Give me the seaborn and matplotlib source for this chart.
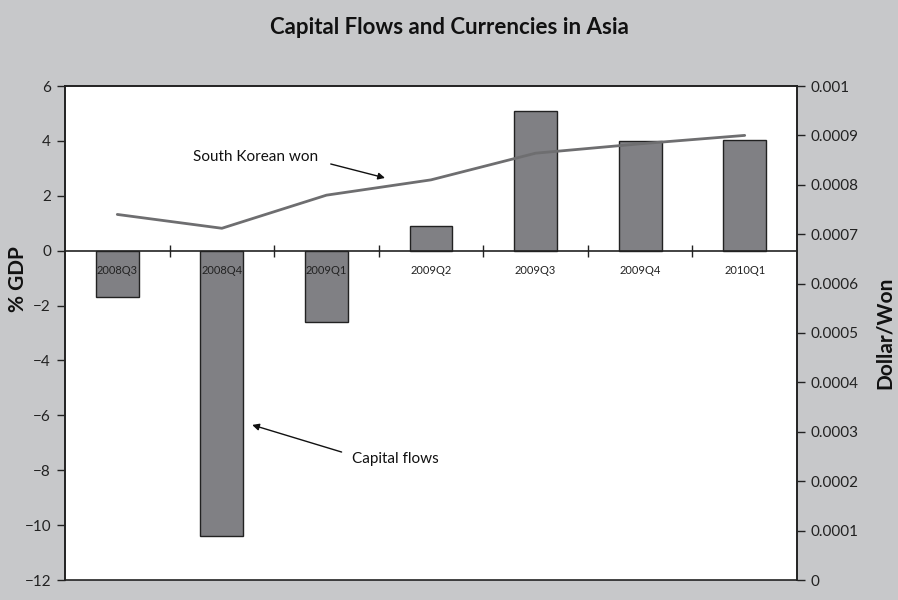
import seaborn as sns
import matplotlib.pyplot as plt
import pandas as pd

# data
quarters = ['2008Q3', '2008Q4', '2009Q1', '2009Q2', '2009Q3', '2009Q4', '2010Q1']
capital_flows = [-1.7, -10.4, -2.6, 0.9, 5.1, 4.0, 4.05]   # % GDP
won = [0.00074, 0.000712, 0.000779, 0.00081, 0.000864, 0.000883, 0.0009]  # Dollar/Won

left_ticks = list(range(-12, 7, 2))
right_ticks = [i * 0.0001 for i in range(0, 11)]

bg = '#c7c8ca'
bar_color = '#808084'
line_color = '#6e6e70'

sns.set_theme(style="white")
plt.rcParams['font.family'] = ['Lato', 'DejaVu Sans']

df = pd.DataFrame({'quarter': quarters, 'flows': capital_flows, 'won': won})

fig = plt.figure(figsize=(8.98, 6), dpi=100, facecolor=bg)
ax = fig.add_axes([65 / 898, 1 - 580 / 600, (797 - 65) / 898, (580 - 86) / 600])
ax.set_facecolor('white')

sns.barplot(data=df, x='quarter', y='flows', color=bar_color, width=0.41,
            edgecolor='#222222', linewidth=1, saturation=1, ax=ax)
ax.set_xlim(-0.5, len(quarters) - 0.5)
ax.set_ylim(-12, 6)
ax.set_axisbelow(False)  # quarter labels sit on top of the bars
ax.set_yticks(left_ticks)
ax.set_yticklabels([str(t).replace('-', '\u2212') for t in left_ticks], fontsize=11, color='#222222')
ax.tick_params(axis='y', left=True, length=6, width=1, color='#222222', direction='out', pad=4)
ax.set_ylabel('% GDP', fontsize=15, fontweight='bold', color='#111111')
ax.yaxis.set_label_coords(-0.05, 0.61)
ax.set_xlabel('')

# zero line carries the category ticks
ax.spines['bottom'].set_position(('data', 0))
for s in ax.spines.values():
    s.set_color('#222222')
    s.set_linewidth(1.2)
ax.set_xticks([i + 0.5 for i in range(len(quarters) - 1)], minor=True)
ax.tick_params(axis='x', which='minor', bottom=True, direction='inout', length=9, width=1, color='#222222')
ax.tick_params(axis='x', which='major', bottom=False, length=0, pad=10, labelsize=8, labelcolor='#222222')

# annotations (in left-axis units)
ax.annotate('South Korean won', xy=(2.56, 2.65), xytext=(1.92, 3.43),
            ha='right', va='center', fontsize=11, color='#111111',
            arrowprops=dict(arrowstyle='-|>', color='#111111', lw=1, mutation_scale=10,
                            shrinkA=7, shrinkB=0, relpos=(1, 0.2)))
ax.annotate('Capital flows', xy=(1.29, -6.35), xytext=(2.24, -7.6),
            ha='left', va='center', fontsize=11, color='#111111',
            arrowprops=dict(arrowstyle='-|>', color='#111111', lw=1, mutation_scale=10,
                            shrinkA=5, shrinkB=0, relpos=(0, 0.8)))

ax2 = ax.twinx()
sns.lineplot(data=df, x='quarter', y='won', color=line_color, linewidth=2, sort=False, ax=ax2)
ax2.set_ylim(0, 0.001)
ax2.set_yticks(right_ticks)
ax2.set_yticklabels([f"{v:g}" for v in right_ticks], fontsize=11, color='#222222')
ax2.tick_params(axis='y', right=True, length=6, width=1, color='#222222', direction='out', pad=4)
ax2.set_ylabel('Dollar/Won', fontsize=15, fontweight='bold', color='#111111', rotation=90)
ax2.yaxis.set_label_coords(1.107, 0.5)
for s in ax2.spines.values():
    s.set_color('#222222')
    s.set_linewidth(1.2)

fig.suptitle('Capital Flows and Currencies in Asia', y=1 - 28 / 600, fontsize=16,
             fontweight='bold', color='#111111', va='center')

plt.savefig('out.png', dpi=100, facecolor=bg)
